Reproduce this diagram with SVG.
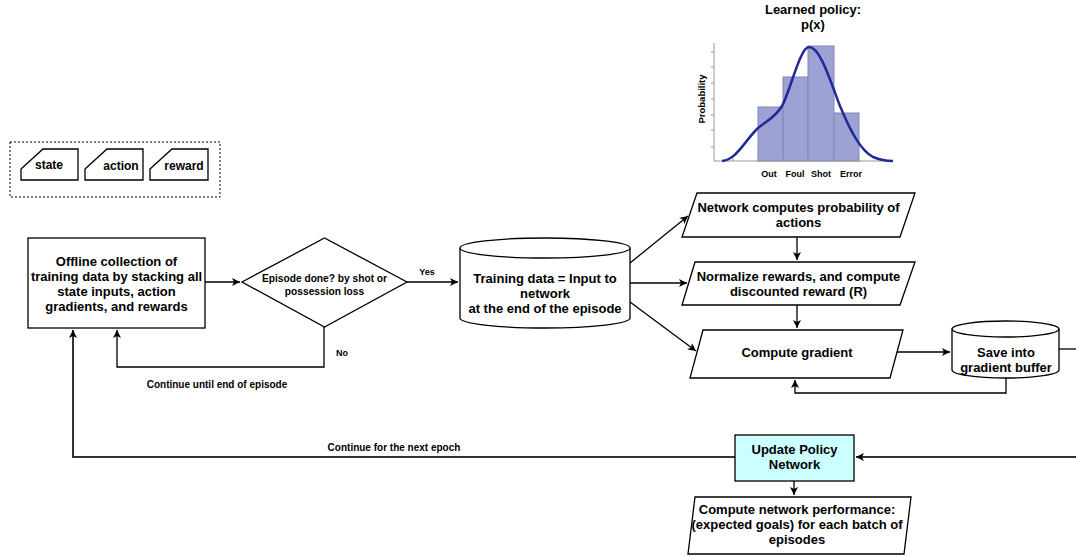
<svg xmlns="http://www.w3.org/2000/svg" width="1076" height="556" viewBox="0 0 1076 556">
<style>
text{font-family:"Liberation Sans",Arial,sans-serif;font-weight:bold;fill:#000}
.t13{font-size:13px;text-anchor:middle}
.t12{font-size:12px;text-anchor:middle}
.t10{font-size:10.2px;text-anchor:middle}
.t9{font-size:10px;text-anchor:middle}
.t8{font-size:9px;text-anchor:middle}
.shape{fill:#fff;stroke:#000;stroke-width:1.3}
.conn{fill:none;stroke:#000;stroke-width:1.3}
.thick{fill:none;stroke:#333;stroke-width:2}
.bar{fill:#9da1d3;stroke:#8286bd;stroke-width:1}
.axis{stroke:#999;stroke-width:1;fill:none}
</style>
<defs>
<marker id="arr" markerUnits="userSpaceOnUse" markerWidth="10" markerHeight="8" refX="8" refY="4" orient="auto">
<path d="M0,0 L8,4 L0,8 L2,4 Z" fill="#000"/>
</marker>
</defs>
<rect width="1076" height="556" fill="#fff"/>

<g id="legend">
<rect x="10" y="142" width="210" height="55" fill="none" stroke="#000" stroke-width="1" stroke-dasharray="2,2"/>
<path class="shape" d="M21,169 L43,149 H78 V180 H21 Z"/>
<text class="t12" x="49" y="169">state</text>
<path class="shape" d="M85,169 L107,149 H143 V180 H85 Z"/>
<text class="t12" x="121" y="170">action</text>
<path class="shape" d="M150,169 L172,149 H208 V180 H150 Z"/>
<text class="t12" x="184" y="170">reward</text>
</g>

<g id="chart">
<text class="t13" x="813" y="14">Learned policy:</text>
<text class="t13" x="813" y="29">p(x)</text>
<rect class="bar" x="758" y="107" width="25" height="54"/>
<rect class="bar" x="783" y="77" width="25" height="84"/>
<rect class="bar" x="808" y="46" width="26" height="115"/>
<rect class="bar" x="834" y="113" width="25" height="48"/>
<path class="axis" d="M714,43 V161 H893"/>
<path class="axis" d="M711,52 H714 M711,67 H714 M711,83 H714 M711,99 H714 M711,115 H714 M711,130 H714 M711,147 H714 M733,161 V158 M758,161 V158 M783,161 V158 M808,161 V158 M833,161 V158 M857,161 V158 M882,161 V158"/>
<path d="M722,161 C736,160 744,142 757,129 C766,121 775,118 782,106 C790,92 800,47 809,47 C820,47 830,80 840,106 C850,130 860,150 873,157 C880,160 887,161 893,161" fill="none" stroke="#1f2a96" stroke-width="2.5"/>
<text class="t8" x="769" y="177">Out</text>
<text class="t8" x="795" y="177">Foul</text>
<text class="t8" x="821" y="177">Shot</text>
<text class="t8" x="851" y="177">Error</text>
<text class="t8" style="font-size:9.5px" transform="translate(705,99) rotate(-90)">Probability</text>
</g>

<g id="connectors">
<path class="conn" d="M205,282 H240" marker-end="url(#arr)"/>
<path class="conn" d="M407,282 H458" marker-end="url(#arr)"/>
<path class="conn" d="M324,327 V367 H117 V330" marker-end="url(#arr)"/>
<path class="conn" d="M630,263 L688,216" marker-end="url(#arr)"/>
<path class="conn" d="M630,283 H687" marker-end="url(#arr)"/>
<path class="conn" d="M630,302 L696,351" marker-end="url(#arr)"/>
<path class="conn" d="M797,237 V260" marker-end="url(#arr)"/>
<path class="conn" d="M797,305 V328" marker-end="url(#arr)"/>
<path class="conn" d="M897,352 H950" marker-end="url(#arr)"/>
<path class="conn" d="M1006,378 V393 H795 V380" marker-end="url(#arr)"/>
<path class="conn" d="M1059,349 H1082"/>
<path class="thick" d="M1082,457 H856" marker-end="url(#arr)"/>
<path class="thick" d="M735,457 H73 V330" marker-end="url(#arr)"/>
<path class="conn" d="M794,481 V495" marker-end="url(#arr)"/>
<text class="t8" x="427" y="275">Yes</text>
<text class="t8" x="342" y="356">No</text>
<text class="t9" x="217" y="388">Continue until end of episode</text>
<text class="t9" x="394" y="451">Continue for the next epoch</text>
</g>

<g id="offline">
<rect class="shape" x="28" y="238" width="177" height="90"/>
<text class="t13" x="116.5" y="266">Offline collection of</text>
<text class="t13" x="116.5" y="281">training data by stacking all</text>
<text class="t13" x="116.5" y="296">state inputs, action</text>
<text class="t13" x="116.5" y="311">gradients, and rewards</text>
</g>

<g id="decision">
<path class="shape" d="M242,282 L324.5,238 L407,282 L324.5,327 Z"/>
<text class="t10" x="324.5" y="282">Episode done? by shot or</text>
<text class="t10" x="324.5" y="295">possession loss</text>
</g>

<g id="training-data">
<path class="shape" d="M460,248 A85,10 0 0,1 630,248 V318 A85,10 0 0,1 460,318 Z"/>
<path class="shape" d="M460,248 A85,10 0 0,0 630,248" fill="none"/>
<text class="t13" x="545" y="283">Training data = Input to</text>
<text class="t13" x="545" y="298">network</text>
<text class="t13" x="545" y="313">at the end of the episode</text>
</g>

<g id="network-computes">
<path class="shape" d="M697,193 H915 L900,237 H682 Z"/>
<text class="t13" x="798.5" y="212">Network computes probability of</text>
<text class="t13" x="798.5" y="227">actions</text>
</g>

<g id="normalize">
<path class="shape" d="M695,262 H915 L900,305 H682 Z"/>
<text class="t13" x="798.5" y="281">Normalize rewards, and compute</text>
<text class="t13" x="798.5" y="296">discounted reward (R)</text>
</g>

<g id="compute-gradient">
<path class="shape" d="M703,330 H903 L890,378 H690 Z"/>
<text class="t13" x="797" y="357">Compute gradient</text>
</g>

<g id="gradient-buffer">
<path class="shape" d="M952,329 A53.5,8 0 0,1 1059,329 V370 A53.5,8 0 0,1 952,370 Z"/>
<path class="shape" d="M952,329 A53.5,8 0 0,0 1059,329" fill="none"/>
<text class="t13" x="1006" y="357">Save into</text>
<text class="t13" x="1006" y="372">gradient buffer</text>
</g>

<g id="update-policy">
<rect x="735" y="435" width="119" height="46" fill="#ccffff" stroke="#000" stroke-width="1.3"/>
<text class="t13" x="794.5" y="454">Update Policy</text>
<text class="t13" x="794.5" y="469">Network</text>
</g>

<g id="performance">
<path class="shape" d="M695,497 H911 L904,554 H688 Z"/>
<text class="t13" x="797" y="514">Compute network performance:</text>
<text class="t13" x="797" y="529">(expected goals) for each batch of</text>
<text class="t13" x="797" y="544">episodes</text>
</g>
</svg>
